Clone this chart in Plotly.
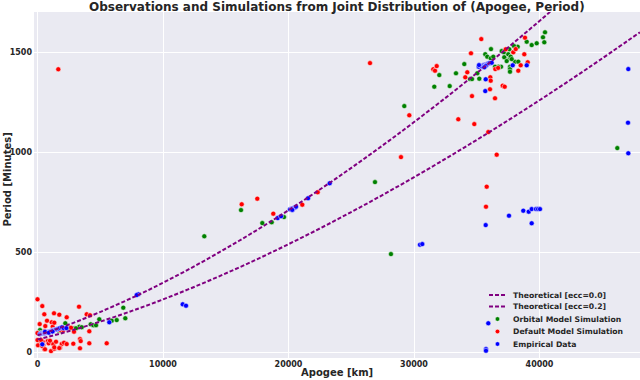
import plotly.graph_objects as go

# ---------------- data ----------------
theory_apogee = [0, 2000, 4000, 8000, 12000, 16000, 20000, 24000, 28000, 32000, 36000, 40000, 44000, 48000]
theory_ecc00 = [84.5, 127.2, 175.4, 286.0, 413.3, 555.3, 710.6, 878.2, 1057.3, 1247.1, 1447.0, 1656.7, 1875.6, 2103.3]
theory_ecc02 = [64.3, 96.8, 133.4, 217.6, 314.4, 422.4, 540.6, 668.1, 804.3, 948.7, 1100.8, 1260.3, 1426.8, 1600.1]

orbital_apogee = [199, 255, 1713, 1896, 2215, 3331, 3522, 2590, 2932, 3068, 4239, 4446, 4661, 4924, 5912, 6311,
                  6837, 6996, 199, 143,
                  13291, 16215, 17912, 18661, 19641, 26892, 28163, 29227, 46199,
                  31617, 32015, 32844, 33346, 34007, 34462, 34621, 35043, 35202, 36135, 35680, 35840, 36111,
                  36318, 36987, 37170, 37593, 38262, 37194, 37648, 37386, 36932, 36717, 37648, 37648, 37648,
                  38047, 38310, 38979, 39377, 39776, 40278, 40382, 40438, 37514, 37705, 37968, 36454, 37785]
orbital_period = [95, 106, 108, 106, 145, 128, 125, 120, 120, 120, 140, 135, 135, 165, 158, 161,
                  223, 170, 111, 98,
                  580, 711, 646, 650, 676, 851, 491, 1231, 1021,
                  1328, 1386, 1331, 1395, 1441, 1366, 1366, 1395, 1368, 1516, 1490, 1478, 1470,
                  1478, 1506, 1500, 1515, 1528, 1475, 1470, 1456, 1428, 1428, 1428, 1416, 1403,
                  1453, 1453, 1553, 1536, 1545, 1575, 1550, 1600, 1490, 1478, 1531, 1428, 1466]

default_apogee = [0, 382, 542, 1315, 1737, 3307, 2327, 3920, 4183, 175, 757, 1131, 622, 1211, 0, 574, 1793, 2056,
                  199, 414, 813, 40, 462, 892, 1259, 1474, 1928, 2112, 542, 1076, 1339, 1793, 2327, 2853, 3386,
                  3442, 3386, 4127, 5514, 2669, 2908, 4127, 1339, 0, 279, 996, 382, 598, 1339, 1737,
                  16271, 17514, 18789, 21099, 22326,
                  1657, 26494, 29625, 28963, 33529, 34804, 35920, 36589, 35792, 35736, 34621, 36454, 31537,
                  31673, 31808, 34087, 34246, 36079, 36111, 36055, 37067, 37226, 35362, 34541, 36477, 37306,
                  37911, 38103, 38788, 38310, 38502, 39059, 38844, 36700]
default_period = [265, 231, 190, 195, 188, 228, 175, 190, 185, 141, 158, 150, 131, 128, 96, 106, 111, 111,
                  58, 53, 56, 35, 36, 45, 41, 53, 41, 48, 16, 6, 18, 23, 41, 43, 66,
                  56, 20, 45, 45, 123, 103, 105, 148, 61, 61, 58, 31, 15, 25, 21,
                  740, 768, 693, 738, 800,
                  1415, 1446, 1185, 976, 1165, 1141, 1101, 988, 828, 728, 1281, 1270, 1415,
                  1408, 1431, 1375, 1400, 1375, 1358, 1315, 1333, 1328, 1566, 1495, 1416, 1515,
                  1500, 1516, 1490, 1408, 1435, 1450, 1573, 1422]

empirical_apogee = [199, 300, 350, 420, 480, 520, 560, 600, 650, 700, 760, 800, 850, 900, 950, 1000, 1050, 1100,
                    1150, 1200, 1250, 1300, 1400, 1450, 1500, 1600, 1700, 1800, 1950, 600, 900, 1200, 382,
                    2100, 2300,
                    5721, 8032, 7904, 11569, 11833, 19139, 19402, 20120, 20250, 20350, 20450, 20550, 20600,
                    20300, 21556, 23283, 30478, 30661, 35712, 37569, 38708, 39138, 39377, 39720, 39880, 40040,
                    39377, 47052, 47076, 47076, 35736, 35736, 35920,
                    35712, 35680, 37864, 38979, 35154, 35400, 35550, 35650, 35750, 35800, 35850, 35950,
                    36050, 36191, 35700, 35600, 35180]
empirical_period = [92, 94, 95, 96, 95, 97, 96, 98, 97, 99, 100, 101, 102, 103, 104, 105, 104, 107,
                    108, 109, 110, 111, 113, 114, 115, 117, 119, 122, 125, 103, 98, 104, 40,
                    120, 121,
                    150, 290, 286, 240, 233, 671, 680, 715, 718, 720, 722, 725, 728,
                    712, 770, 845, 538, 541, 636, 683, 708, 703, 716, 716, 716, 716,
                    645, 1148, 995, 1416, 16, 8, 145,
                    1365, 1306, 1435, 1435, 1428, 1430, 1436, 1438, 1440, 1436, 1442, 1445,
                    1447, 1448, 1432, 1425, 1436]

title_text = "Observations and Simulations from Joint Distribution of (Apogee, Period)"
x_title = "Apogee [km]"
y_title = "Period [Minutes]"
x_tickvals = [0, 10000, 20000, 30000, 40000]
y_tickvals = [0, 500, 1000, 1500]
legend_names = ["Theoretical [ecc=0.0]", "Theoretical [ecc=0.2]", "Orbital Model Simulation",
                "Default Model Simulation", "Empirical Data"]

# ---------------- styling ----------------
W, H = 640, 380
# plot area in screen pixels
PL, PR, PT, PB = 34, 640, 12, 358
TXT = "#262626"
FONT = "DejaVu Sans"
PURPLE = "#800080"
GREEN = "#008000"
RED = "#ff0000"
BLUE = "#0000ff"


def px2paper_x(px):
    return (px - PL) / (PR - PL)


def px2paper_y(py):
    return (PB - py) / (PB - PT)


marker_line = dict(color="white", width=0.5)

fig = go.Figure()
fig.add_trace(go.Scatter(x=orbital_apogee, y=orbital_period, mode="markers", name=legend_names[2],
                         marker=dict(color=GREEN, size=5, line=marker_line), showlegend=False))
fig.add_trace(go.Scatter(x=default_apogee, y=default_period, mode="markers", name=legend_names[3],
                         marker=dict(color=RED, size=5, line=marker_line), showlegend=False))
fig.add_trace(go.Scatter(x=empirical_apogee, y=empirical_period, mode="markers", name=legend_names[4],
                         marker=dict(color=BLUE, size=5, line=marker_line), showlegend=False))
fig.add_trace(go.Scatter(x=theory_apogee, y=theory_ecc00, mode="lines", name=legend_names[0],
                         line=dict(color=PURPLE, width=2, dash="4px,2px", shape="spline"), showlegend=False))
fig.add_trace(go.Scatter(x=theory_apogee, y=theory_ecc02, mode="lines", name=legend_names[1],
                         line=dict(color=PURPLE, width=2, dash="4px,2px", shape="spline"), showlegend=False))

# axis mapping: 0 km at px 37.5, 12.55 px per 1000 km;
# 0 min at py 352.3, 0.2 px per minute
x_per_px = 1000 / 12.55
x_range = [(PL - 37.5) * x_per_px, (PR - 37.5) * x_per_px]
y_range = [(352.3 - PB) / 0.2, (352.3 - PT) / 0.2]

fig.update_layout(
    width=W, height=H,
    margin=dict(l=PL, r=W - PR, t=PT, b=H - PB, pad=0),
    paper_bgcolor="white",
    plot_bgcolor="#EAEAF2",
    font=dict(family=FONT, color=TXT, weight="bold"),
    showlegend=False,
    hovermode=False,
    xaxis=dict(range=x_range, tickvals=x_tickvals, ticktext=[str(v) for v in x_tickvals],
               showgrid=True, gridcolor="white", gridwidth=1, zeroline=False, showline=False,
               ticks="", tickfont=dict(family=FONT, size=8, color=TXT, weight="bold"),
               automargin=False, ticklabelstandoff=0),
    yaxis=dict(range=y_range, tickvals=y_tickvals, ticktext=[str(v) for v in y_tickvals],
               showgrid=True, gridcolor="white", gridwidth=1, zeroline=False, showline=False,
               ticks="", tickfont=dict(family=FONT, size=8, color=TXT, weight="bold"),
               automargin=False, ticklabelstandoff=1),
)

annotations = [
    dict(text=title_text, x=px2paper_x(337), y=px2paper_y(6.5), xref="paper", yref="paper",
         showarrow=False, xanchor="center", yanchor="middle",
         font=dict(family=FONT, size=12, color=TXT, weight="bold")),
    dict(text=x_title, x=px2paper_x(337), y=px2paper_y(372), xref="paper", yref="paper",
         showarrow=False, xanchor="center", yanchor="middle",
         font=dict(family=FONT, size=10, color=TXT, weight="bold")),
    dict(text=y_title, x=px2paper_x(6.5), y=px2paper_y(180), xref="paper", yref="paper",
         showarrow=False, xanchor="center", yanchor="middle", textangle=-90,
         font=dict(family=FONT, size=10, color=TXT, weight="bold")),
]

# manual legend (compact like matplotlib)
rows_py = [295, 306.5, 319, 331.5, 344]
shapes = []
for i, name in enumerate(legend_names):
    py = rows_py[i]
    annotations.append(dict(text=name, x=px2paper_x(511), y=px2paper_y(py), xref="paper", yref="paper",
                            showarrow=False, xanchor="left", yanchor="middle",
                            font=dict(family=FONT, size=7.7, color=TXT, weight="bold")))
    if i < 2:
        shapes.append(dict(type="line", xref="paper", yref="paper",
                           x0=px2paper_x(489), x1=px2paper_x(506), y0=px2paper_y(py), y1=px2paper_y(py),
                           line=dict(color=PURPLE, width=2, dash="4px,2px")))
    else:
        col = [GREEN, RED, BLUE][i - 2]
        shapes.append(dict(type="circle", xref="paper", yref="paper", xsizemode="pixel", ysizemode="pixel",
                           xanchor=px2paper_x(497.5), yanchor=px2paper_y(py),
                           x0=-2.3, x1=2.3, y0=-2.3, y1=2.3,
                           fillcolor=col, line=dict(color="white", width=0.5)))

fig.update_layout(annotations=annotations, shapes=shapes)

# remove the default 8px page margin so the figure sits at the window's corner
fig.write_html("out.html", config={"displayModeBar": False, "staticPlot": True},
               post_script="document.body.style.margin='0';")
